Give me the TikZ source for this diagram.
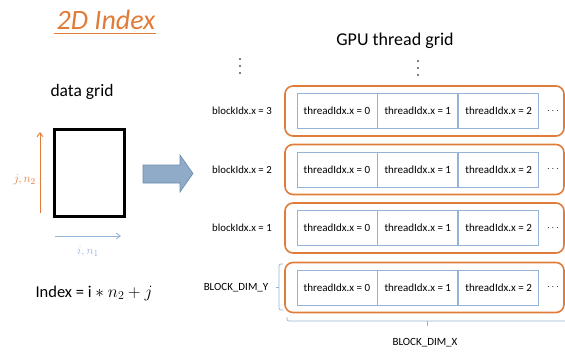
\documentclass[tikz,border=0pt]{standalone}
\usepackage{fontspec}
\setmainfont{Carlito}
\usetikzlibrary{arrows.meta,positioning}

\definecolor{blkorange}{RGB}{224,124,58}
\definecolor{cellblue}{RGB}{149,179,215}
\definecolor{arrowfill}{RGB}{143,171,200}
\definecolor{arrowedge}{RGB}{104,138,172}

\tikzset{
  heading/.style={font=\fontsize{17.5}{20}\selectfont, inner sep=0pt},
  blockbox/.style={draw=blkorange, line width=1.6pt, rounded corners=8pt},
  threadcell/.style={draw=cellblue, line width=0.8pt, minimum width=80pt, minimum height=35pt,
    inner sep=0pt, font=\fontsize{11}{13}\selectfont},
  rowlabel/.style={font=\fontsize{10.8}{12}\selectfont, inner sep=0pt},
  dimlabel/.style={font=\fontsize{11}{13}\selectfont, inner sep=0pt},
  bracket/.style={draw=cellblue, line width=0.7pt, rounded corners=2pt},
}

\begin{document}
\begin{tikzpicture}[x=1pt,y=1pt,yscale=-1]
  \useasboundingbox (0,0) rectangle (565,353);

  % left side: data grid
  \node[anchor=base, inner sep=0pt, text=blkorange, font=\fontsize{28}{30}\selectfont\itshape] (title) at (106,30) {2D Index};
  \draw[blkorange, line width=0.9pt] ([xshift=-3pt,yshift=3.5pt]title.base west) -- ([xshift=1pt,yshift=3.5pt]title.base east);
  \node[heading] (gridtitle) at (82,92) {data grid};
  \node[draw, line width=3pt, minimum width=70pt, minimum height=87pt, inner sep=0pt] (gridbox) at (89,172.5) {};
  \coordinate (jfrom) at (40,213);
  \coordinate (jto) at (40,132);
  \draw[blkorange, line width=0.9pt, -{Straight Barb[length=4pt,width=6pt]}] (jfrom) -- (jto);
  \node[anchor=east, inner sep=0pt, text=blkorange, font=\fontsize{13}{14}\selectfont] (jlabel) at (36,180) {$j, n_2$};
  \coordinate (ifrom) at (55,236);
  \coordinate (ito) at (121,236);
  \draw[cellblue, line width=0.9pt, -{Straight Barb[length=4pt,width=6pt]}] (ifrom) -- (ito);
  \node[inner sep=0pt, text=cellblue, font=\fontsize{13}{14}\selectfont] (ilabel) at (88,252) {$i, n_1$};
  \node[font=\fontsize{16.5}{18}\selectfont, inner sep=0pt] (formula) at (94,293) {Index = $\mathrm{i} * n_2 + j$};

  % mapping arrow
  \filldraw[fill=arrowfill, draw=arrowedge, line width=0.6pt]
    (143,165) -- (180,165) -- (180,155) -- (193,173.5) -- (180,192) -- (180,183) -- (143,183) -- cycle;

  % right side: GPU thread grid
  \node[font=\fontsize{18}{20}\selectfont, inner sep=0pt] (gputitle) at (395,41) {GPU thread grid};
  \foreach \d in {0,1,2} {
    \fill (240,59+7*\d) circle (0.9pt);
    \fill (418,61+7*\d) circle (0.9pt);
  }

  \foreach \r/\yc in {3/111,2/169.5,1/228,0/287.5} {
    \node[blockbox, minimum width=279pt, minimum height=50pt, inner sep=0pt] (blk\r) at (424.5,\yc) {};
    \node[threadcell] (c\r0) at (337,\yc) {threadIdx.x = 0};
    \node[threadcell, right=0pt of c\r0] (c\r1) {threadIdx.x = 1};
    \node[threadcell, right=0pt of c\r1] (c\r2) {threadIdx.x = 2};
    \node[inner sep=0pt, right=8pt of c\r2] (dots\r) {$\cdots$};
  }
  \foreach \r/\yc in {3/111,2/169.5,1/228} {
    \node[rowlabel] (lbl\r) at (242,\yc) {blockIdx.x = \r};
  }
  \node[dimlabel] (dimy) at (236,288) {BLOCK\_DIM\_Y};
  \node[dimlabel] (dimx) at (425,343) {BLOCK\_DIM\_X};

  % brackets
  \draw[bracket] (283,264) -- (279,264) -- (279,310) -- (283,310);
  \draw[cellblue, line width=0.7pt] (279,287) -- (276,287);
  \draw[bracket] (287,317) -- (287,321) -- (566,321);
  \draw[cellblue, line width=0.7pt] (427,321) -- (427,326);
\end{tikzpicture}
\end{document}
